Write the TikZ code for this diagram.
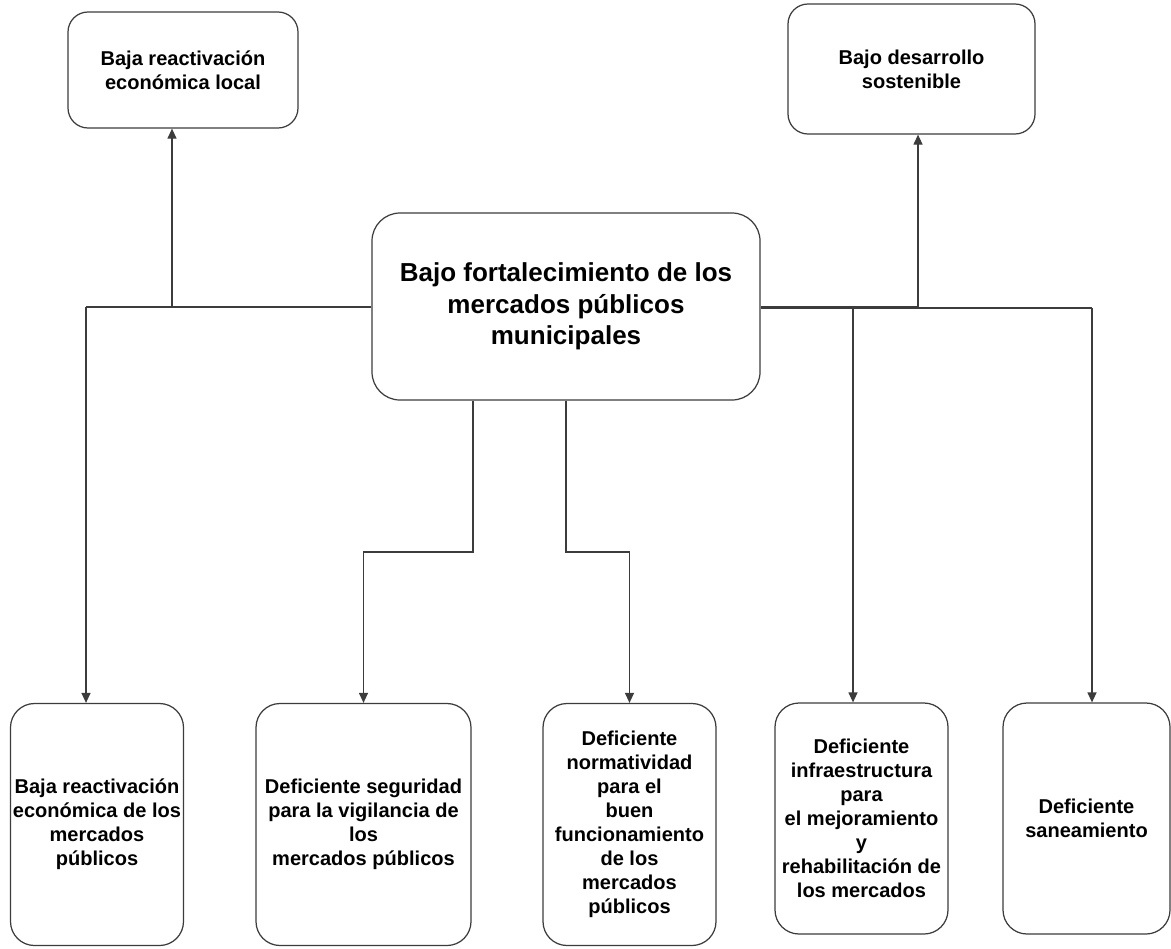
\documentclass[tikz,border=0pt]{standalone}
\usepackage{fontspec}
\setmainfont{Liberation Sans}
\definecolor{edge}{RGB}{60, 60, 60}
\usetikzlibrary{arrows.meta, positioning}

\begin{document}
\begin{tikzpicture}[
        every node/.style={font=\bfseries\fontsize{11.4}{13.7}\selectfont, align=center},
        efecto/.style={rectangle, rounded corners=0.4cm, draw=edge, line width=0.7pt, fill=white, inner sep=2pt},
        causa/.style={rectangle, rounded corners=0.48cm, draw=edge, line width=0.7pt, fill=white, inner sep=1pt, minimum width=3.46cm, minimum height=4.84cm},
        central/.style={rectangle, rounded corners=0.56cm, draw=edge, line width=0.7pt, fill=white, minimum width=7.76cm, minimum height=3.74cm, font=\bfseries\fontsize{14.8}{17.9}\selectfont},
        line/.style={edge, line width=0.7pt},
        arr/.style={-{Triangle[length=2mm, width=1.8mm]}, edge, line width=0.7pt}
    ]
        \useasboundingbox (0,0) rectangle (23.42,-18.96);

        % Problema central y efectos
        \node[central] (main) at (11.32,-6.13) {Bajo fortalecimiento de los\\ mercados públicos\\ municipales};
        \node[efecto, minimum width=4.6cm, minimum height=2.32cm]  (loc)  at (3.66,-1.40)  {Baja reactivación\\ económica local};
        \node[efecto, minimum width=4.94cm, minimum height=2.6cm]  (sost) at (18.23,-1.38) {Bajo desarrollo\\ sostenible};

        % Causas
        \node[causa] (b1) at (1.94,-16.49)  {Baja reactivación\\ económica de los\\ mercados\\ públicos};
        \node[causa, minimum width=4.3cm] (b2) at (7.27,-16.49) {Deficiente seguridad\\ para la vigilancia de\\ los\\ mercados públicos};
        \node[causa] (b3) at (12.59,-16.49) {Deficiente\\ normatividad\\ para el\\ buen\\ funcionamiento\\ de los\\ mercados\\ públicos};
        \node[causa, minimum height=4.62cm] (b4) at (17.23,-16.37) {Deficiente\\ infraestructura\\ para\\ el mejoramiento\\ y\\ rehabilitación de\\ los mercados};
        \node[causa, minimum width=3.34cm, minimum height=4.62cm] (b5) at (21.73,-16.37) {Deficiente\\ saneamiento};

        % Puntos de quiebre
        \coordinate (jl) at (3.44,-6.14);
        \coordinate (kl) at (1.72,-6.14);
        \coordinate (jr) at (18.36,-6.13);
        \coordinate (kr) at (21.84,-6.16);
        \coordinate (k4) at (17.06,-6.16);
        \coordinate (m1) at (9.46,-11.04);
        \coordinate (m2) at (11.32,-11.04);

        % Conectores
        \draw[line] (main.west |- kl) -- (kl);
        \draw[arr] (jl) -- (jl |- loc.south);
        \draw[arr] (kl) -- (kl |- b1.north);
        \draw[line] (main.east |- jr) -- (jr);
        \draw[arr] (jr) -- (jr |- sost.south);
        \draw[line] (main.east |- kr) -- (kr);
        \draw[arr] (k4) -- (k4 |- b4.north);
        \draw[arr] (kr) -- (kr |- b5.north);
        \draw[arr] (main.south -| m1) -- (m1) -| (b2.north);
        \draw[arr] (main.south -| m2) -- (m2) -| (b3.north);
    \end{tikzpicture}
\end{document}
